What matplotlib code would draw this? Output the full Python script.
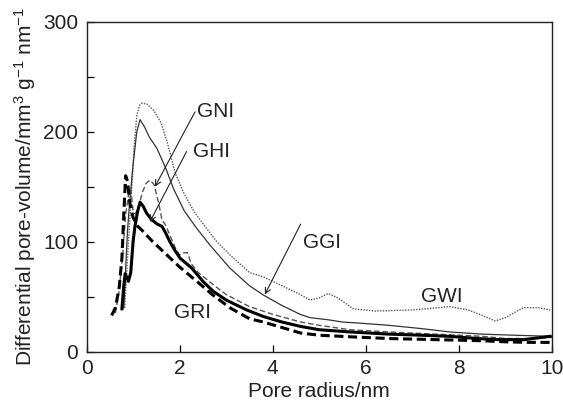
import matplotlib
matplotlib.use('Agg')
import matplotlib.pyplot as plt

plt.rcParams['font.family'] = ['Liberation Sans', 'DejaVu Sans']
plt.rcParams['mathtext.fontset'] = 'custom'
plt.rcParams['mathtext.rm'] = 'Liberation Sans'
plt.rcParams['mathtext.it'] = 'Liberation Sans'

# curves (pore radius in nm, differential pore volume)
gwi_x = [0.82, 0.9, 0.96, 1.02, 1.08, 1.14, 1.19, 1.3, 1.45, 1.6, 1.75, 1.9, 2.08, 2.3, 2.58,
         2.8, 3.08, 3.5, 3.8, 4.2, 4.59, 4.8, 5.0, 5.19, 5.4, 5.73, 6.2, 7.0, 7.8, 8.2,
         8.5, 8.78, 9.0, 9.38, 9.7, 9.96]
gwi_y = [40, 100, 140, 185, 215, 224, 226, 225, 219, 208, 188, 163, 145, 128, 112,
         100, 88, 72, 68, 60, 52, 47, 49, 53, 49, 39, 37, 38, 41, 38,
         33, 28, 31, 40, 40, 38]

ggi_x = [0.80, 0.88, 0.93, 1.0, 1.08, 1.15, 1.25, 1.35, 1.51, 1.7, 1.87, 2.1, 2.37, 2.65,
         3.08, 3.5, 3.8, 4.2, 4.59, 4.8, 5.2, 5.5, 5.87, 6.5, 7.2, 7.8, 8.5, 9.2, 10.0]
ggi_y = [40, 110, 138, 170, 200, 211, 204, 195, 185, 167, 148, 128, 112, 97,
         76, 60, 51.5, 42, 34, 31, 29, 27, 26, 24, 21, 18, 16, 15, 14]

gni_x = [0.62, 0.7, 0.78, 0.84, 0.9, 0.95, 1.0, 1.05, 1.12, 1.2, 1.28, 1.36, 1.45, 1.55,
         1.62, 1.7, 1.8, 1.9, 2.0, 2.1, 2.17, 2.25, 2.4, 2.72, 3.0, 3.5, 4.0, 4.6, 5.0,
         5.66, 6.5, 7.5, 8.5, 9.0, 9.5, 10.0]
gni_y = [35, 55, 90, 125, 142, 148, 128, 125, 132, 145, 153, 156, 152, 135,
         120, 115, 105, 95, 88, 90, 90, 80, 72, 61, 52, 41, 34, 27, 24,
         20, 18, 16, 14, 12, 12, 13]

ghi_x = [0.76, 0.80, 0.83, 0.87, 0.90, 0.95, 1.0, 1.04, 1.10, 1.15, 1.22, 1.29, 1.40, 1.52,
         1.62, 1.70, 1.79, 1.9, 2.01, 2.15, 2.26, 2.5, 2.72, 3.0, 3.44, 3.8, 4.2, 4.6,
         5.0, 5.66, 6.5, 7.2, 7.8, 8.4, 8.88, 9.4, 9.96]
ghi_y = [39, 60, 71, 67, 64, 72, 100, 114, 128, 136, 132, 126, 120, 116,
         114, 108, 100, 92, 85, 80, 76, 64, 55, 47, 38, 32, 27, 23,
         20, 18, 16, 15, 14, 12, 11, 11, 14]

gri_x = [0.54, 0.62, 0.70, 0.76, 0.80, 0.84, 0.88, 0.93, 1.0, 1.1, 1.2, 1.4, 1.65, 2.0,
         2.37, 2.7, 3.08, 3.5, 3.8, 4.2, 4.6, 5.0, 5.66, 6.5, 7.5, 8.5, 9.0, 9.5, 10.0]
gri_y = [33, 40, 58, 85, 125, 160, 155, 135, 122, 114, 110, 101, 91, 77,
         64, 52, 40, 30, 27, 22, 17, 15, 13.6, 12, 11, 10, 9, 8.5, 8.5]

fig = plt.figure(figsize=(5.63, 4.09), dpi=100)
ax = fig.add_axes([0.1537, 0.140, 0.8268, 0.807])

ax.plot(gwi_x, gwi_y, color='#555555', lw=1.0, ls=(0, (1, 1)))
ax.plot(ggi_x, ggi_y, color='#333333', lw=0.9, ls='-')
ax.plot(gni_x, gni_y, color='#555555', lw=1.0, ls=(0, (4, 2)))
ax.plot(ghi_x, ghi_y, color='black', lw=2.2, ls='-')
ax.plot(gri_x, gri_y, color='black', lw=2.2, ls=(0, (3, 1.5)))

ax.set_xlim(0, 10)
ax.set_ylim(0, 300)
ax.set_xticks([0, 2, 4, 6, 8, 10])
ax.set_yticks([0, 100, 200, 300])
ax.set_yticks([50, 150, 250], minor=True)
ax.tick_params(axis='both', which='both', direction='in', labelsize=15,
               labelcolor='#222222', top=False, right=False)
ax.tick_params(axis='both', which='major', length=5, width=0.9)
ax.tick_params(axis='y', which='minor', length=5, width=0.9)
ax.tick_params(axis='x', pad=5)
ax.tick_params(axis='y', pad=6)
for s in ax.spines.values():
    s.set_linewidth(1.0)
    s.set_color('#222222')

ax.set_xlabel('Pore radius/nm', fontsize=15, color='#222222', labelpad=3)
ax.set_ylabel('Differential pore-volume/mm$^3$ g$^{-1}$ nm$^{-1}$', fontsize=15,
              color='#222222', labelpad=4)

arrow = dict(arrowstyle='->', color='#222222', lw=0.8, shrinkA=0, shrinkB=0)
ax.annotate('', xy=(1.47, 150), xytext=(2.33, 218), arrowprops=arrow)
ax.annotate('', xy=(1.36, 118), xytext=(2.15, 182), arrowprops=arrow)
ax.annotate('', xy=(3.83, 52), xytext=(4.6, 116), arrowprops=arrow)

lab = dict(fontsize=15, color='#222222', ha='center', va='center')
ax.text(2.78, 218, 'GNI', **lab)
ax.text(2.68, 182, 'GHI', **lab)
ax.text(5.05, 99, 'GGI', **lab)
ax.text(7.64, 50, 'GWI', **lab)
ax.text(2.27, 36, 'GRI', **lab)

fig.savefig('out.png', dpi=100)
